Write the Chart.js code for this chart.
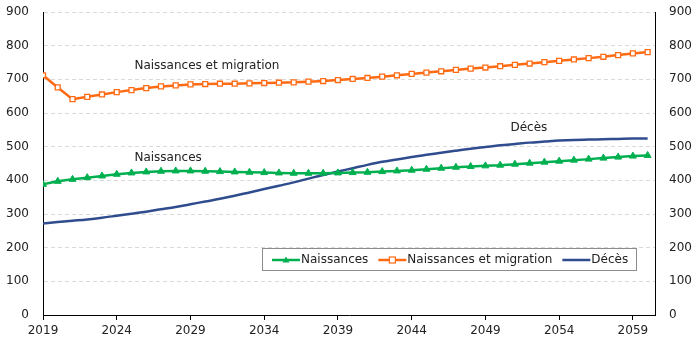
<!DOCTYPE html>
<html>
<head>
<meta charset="utf-8">
<script src="https://cdn.jsdelivr.net/npm/chart.js@4"></script>
<style>
	html, body { margin: 0; padding: 0; background: #fff; }
	#wrapper { width: 699px; height: 345px; }
</style>
</head>
<body>
<div id="wrapper"><canvas id="lc-naissances"></canvas></div>
<script>
// Years 2019..2060
const years = [
	2019, 2020, 2021, 2022, 2023, 2024, 2025, 2026, 2027, 2028,
	2029, 2030, 2031, 2032, 2033, 2034, 2035, 2036, 2037, 2038,
	2039, 2040, 2041, 2042, 2043, 2044, 2045, 2046, 2047, 2048,
	2049, 2050, 2051, 2052, 2053, 2054, 2055, 2056, 2057, 2058,
	2059, 2060,
];

const naissances = [
	388, 397, 403, 408, 413, 418, 422, 425, 427, 428,
	428, 427, 426, 425, 424, 423, 422, 421, 421, 421,
	422, 423, 424, 426, 428, 430, 433, 436, 439, 441,
	443, 445, 448, 451, 454, 457, 460, 463, 466, 469,
	472, 474,
];

const naissancesMigration = [
	712, 676, 641, 648, 655, 662, 668, 674, 679, 682,
	685, 686, 687, 687, 688, 689, 690, 691, 693, 695,
	698, 701, 704, 708, 712, 716, 720, 724, 728, 732,
	735, 739, 743, 747, 751, 755, 759, 763, 767, 772,
	777, 781,
];

const deces = [
	272, 276, 280, 284, 289, 295, 301, 307, 314, 321,
	329, 337, 345, 354, 364, 374, 384, 394, 405, 416,
	426, 436, 446, 455, 462, 469, 476, 482, 488, 494,
	499, 504, 508, 512, 515, 518, 520, 521, 522, 523,
	524, 524,
];

const xTicks = [2019, 2024, 2029, 2034, 2039, 2044, 2049, 2054, 2059];

// labels written in the plot, placed by value
const annotations = [
	{ text: "Naissances et migration", x: 2025.2, y: 739 },
	{ text: "Naissances", x: 2025.2, y: 466 },
	{ text: "Décès", x: 2050.7, y: 555 },
];

const legendItems = [
	{ text: "Naissances", color: "#00B050", marker: "triangle" },
	{ text: "Naissances et migration", color: "#FF6A13", marker: "square" },
	{ text: "Décès", color: "#2F4D8E", marker: null },
];

const FONT = "DejaVu Sans";

const toXY = (vals) => vals.map((v, i) => ({ x: years[i], y: v }));

const overlayPlugin = {
	id: "overlay",
	afterDatasetsDraw(chart) {
		const ctx = chart.ctx;
		const xs = chart.scales.x;
		const ys = chart.scales.y;

		ctx.save();
		ctx.font = "12px '" + FONT + "'";
		ctx.fillStyle = "#222";
		ctx.textBaseline = "middle";
		ctx.textAlign = "left";
		for (let a of annotations) {
			ctx.fillText(a.text, xs.getPixelForValue(a.x), ys.getPixelForValue(a.y));
		}

		// legend box
		const boxX = Math.round(xs.getPixelForValue(2033.84));
		const boxY = Math.round(ys.getPixelForValue(200));
		const boxH = 22;
		const sample = 28;
		let widths = legendItems.map((it) => ctx.measureText(it.text).width);
		let boxW = 8;
		for (let w of widths) boxW += sample + 1 + w + 10;
		boxW = Math.round(boxW);
		ctx.fillStyle = "#fff";
		ctx.fillRect(boxX, boxY, boxW, boxH);
		ctx.strokeStyle = "#8c8c8c";
		ctx.lineWidth = 1;
		ctx.strokeRect(boxX + 0.5, boxY + 0.5, boxW, boxH);

		let cx = boxX + 10;
		const cy = boxY + boxH / 2 + 1;
		legendItems.forEach((it, i) => {
			ctx.strokeStyle = it.color;
			ctx.lineWidth = 2.5;
			ctx.beginPath();
			ctx.moveTo(cx, cy);
			ctx.lineTo(cx + sample, cy);
			ctx.stroke();
			const mx = cx + sample / 2;
			if (it.marker === "triangle") {
				ctx.fillStyle = it.color;
				ctx.beginPath();
				ctx.moveTo(mx, cy - 3.5);
				ctx.lineTo(mx + 3.5, cy + 2.5);
				ctx.lineTo(mx - 3.5, cy + 2.5);
				ctx.closePath();
				ctx.fill();
			} else if (it.marker === "square") {
				ctx.fillStyle = "#fff";
				ctx.lineWidth = 1.2;
				ctx.fillRect(mx - 3, cy - 3, 6, 6);
				ctx.strokeRect(mx - 3, cy - 3, 6, 6);
			}
			ctx.fillStyle = "#222";
			ctx.fillText(it.text, cx + sample + 1, cy);
			cx += sample + 1 + widths[i] + 10;
		});
		ctx.restore();
	},
};

// fixed axis sizes so the plot area sits where the reference has it
const fixVertical = (w) => (scale) => {
	scale.width = w;
	scale.paddingTop = 0;
	scale.paddingBottom = 0;
};

const ctx = document.getElementById("lc-naissances").getContext("2d");

new Chart(ctx, {
	type: "line",
	data: {
		datasets: [
			{
				label: "Naissances",
				data: toXY(naissances),
				borderColor: "#00B050",
				backgroundColor: "#00B050",
				borderWidth: 2.5,
				pointStyle: "triangle",
				pointRadius: 4,
				pointBorderWidth: 1,
				tension: 0,
				order: 2,
			},
			{
				label: "Naissances et migration",
				data: toXY(naissancesMigration),
				borderColor: "#FF6A13",
				backgroundColor: "#fff",
				borderWidth: 2.5,
				pointStyle: "rect",
				pointRadius: 3.5,
				pointBorderWidth: 1.3,
				tension: 0,
				order: 1,
			},
			{
				label: "Décès",
				data: toXY(deces),
				borderColor: "#2F4D8E",
				backgroundColor: "#2F4D8E",
				borderWidth: 2.5,
				pointRadius: 0,
				cubicInterpolationMode: "monotone",
				order: 3,
			},
		],
	},
	options: {
		responsive: true,
		maintainAspectRatio: false,
		animation: false,
		layout: { padding: { top: 12, left: 0, right: 0, bottom: 0 } },
		plugins: {
			legend: { display: false },
			tooltip: { enabled: false },
		},
		scales: {
			x: {
				type: "linear",
				min: 2019,
				max: 2060.5,
				afterBuildTicks: (scale) => {
					scale.ticks = xTicks.map((v) => ({ value: v }));
				},
				afterFit: (scale) => {
					scale.height = 30;
					scale.paddingLeft = 0;
					scale.paddingRight = 0;
				},
				ticks: {
					color: "#222",
					font: { family: FONT, size: 12 },
					padding: 4,
					maxRotation: 0,
					autoSkip: false,
					callback: (v) => String(v),
				},
				grid: {
					drawOnChartArea: false,
					tickLength: 5,
					tickColor: "#000",
				},
				border: { display: true, color: "#000", width: 1 },
			},
			y: {
				position: "left",
				min: 0,
				max: 900,
				afterFit: fixVertical(43),
				ticks: {
					stepSize: 100,
					color: "#222",
					font: { family: FONT, size: 12 },
					padding: 14,
				},
				grid: {
					color: "#d9d9d9",
					drawTicks: false,
				},
				border: { display: true, color: "#000", width: 1, dash: [4, 3] },
			},
			y1: {
				position: "right",
				min: 0,
				max: 900,
				afterFit: fixVertical(44),
				ticks: {
					stepSize: 100,
					color: "#222",
					font: { family: FONT, size: 12 },
					padding: 14,
				},
				grid: {
					drawOnChartArea: false,
					drawTicks: false,
				},
				border: { display: true, color: "#000", width: 1 },
			},
		},
	},
	plugins: [overlayPlugin],
});
</script>
</body>
</html>
